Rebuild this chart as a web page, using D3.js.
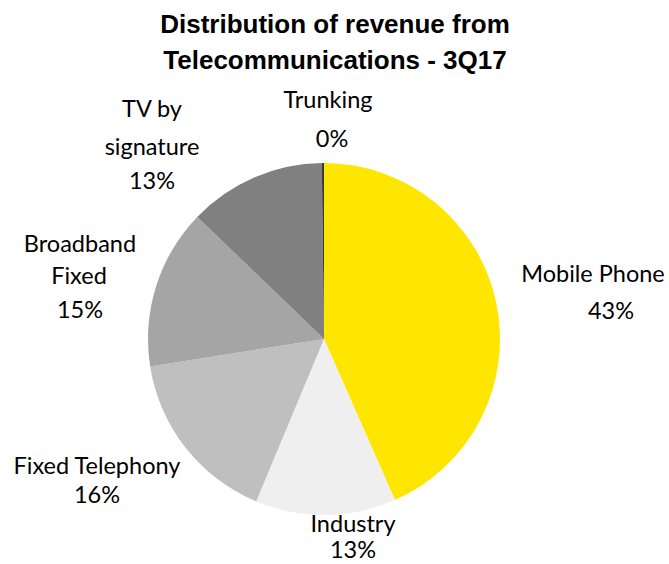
<!DOCTYPE html>
<html>
<head>
<meta charset="utf-8">
<script src="https://cdn.jsdelivr.net/npm/d3@7"></script>
<style>
  html, body { margin: 0; padding: 0; background: #fff; }
  svg { display: block; }
</style>
</head>
<body>
<svg id="chart" width="669" height="564"></svg>
<script>
// Revenue segments, in drawing order (clockwise from 12 o'clock)
const categories = ["Mobile Phone", "Industry", "Fixed Telephony", "Broadband Fixed", "TV by signature", "Trunking"];
const shares = [43.4, 12.9, 16.2, 14.7, 12.6, 0.2];
const titleLines = ["Distribution of revenue from", "Telecommunications - 3Q17"];

// Text lines of each slice label (the percentage is added from the value)
const labelLines = {
  "Mobile Phone": ["Mobile Phone"],
  "Industry": ["Industry"],
  "Fixed Telephony": ["Fixed Telephony"],
  "Broadband Fixed": ["Broadband", "Fixed"],
  "TV by signature": ["TV by", "signature"],
  "Trunking": ["Trunking"]
};

// Slice fills
const colors = ["#FFE600", "#EFEFEF", "#BFBFBF", "#A5A5A5", "#808080", "#3A3A3A"];

// Label placement: one [x, baseline] per text line, last entry for the percentage
const labelPlacement = {
  "Mobile Phone": [[593, 282], [611, 319]],
  "Industry": [[353, 532], [353, 558]],
  "Fixed Telephony": [[97, 474], [97, 503]],
  "Broadband Fixed": [[80, 252], [79, 284], [80, 318]],
  "TV by signature": [[152, 117], [152, 155], [152, 189]],
  "Trunking": [[328, 108], [332, 147]]
};

const svg = d3.select("#chart");
const cx = 324, cy = 339, r = 176;

const data = categories.map((c, i) => ({ name: c, value: shares[i], color: colors[i] }));
const total = d3.sum(shares);

const pie = d3.pie().value(d => d.value).sort(null);
const arc = d3.arc().innerRadius(0).outerRadius(r);

const g = svg.append("g").attr("transform", `translate(${cx},${cy})`);
g.selectAll("path")
  .data(pie(data))
  .join("path")
  .attr("d", arc)
  .attr("fill", d => d.data.color);

// Title
svg.append("g")
  .selectAll("text")
  .data(titleLines)
  .join("text")
  .attr("x", 335)
  .attr("y", (d, i) => 33 + i * 36)
  .attr("text-anchor", "middle")
  .attr("font-family", "'Liberation Sans', Arial, sans-serif")
  .attr("font-weight", "bold")
  .attr("font-size", 26)
  .attr("fill", "#000")
  .text(d => d);

// Slice labels
const fmt = v => Math.round(v / total * 100) + "%";
const labels = svg.append("g")
  .attr("font-family", "Lato, 'Open Sans', sans-serif")
  .attr("font-size", 23.5)
  .attr("fill", "#000")
  .attr("text-anchor", "middle");

data.forEach(d => {
  const lines = labelLines[d.name].concat([fmt(d.value)]);
  const pos = labelPlacement[d.name];
  lines.forEach((t, i) => {
    labels.append("text")
      .attr("x", pos[i][0])
      .attr("y", pos[i][1])
      .text(t);
  });
});
</script>
</body>
</html>
